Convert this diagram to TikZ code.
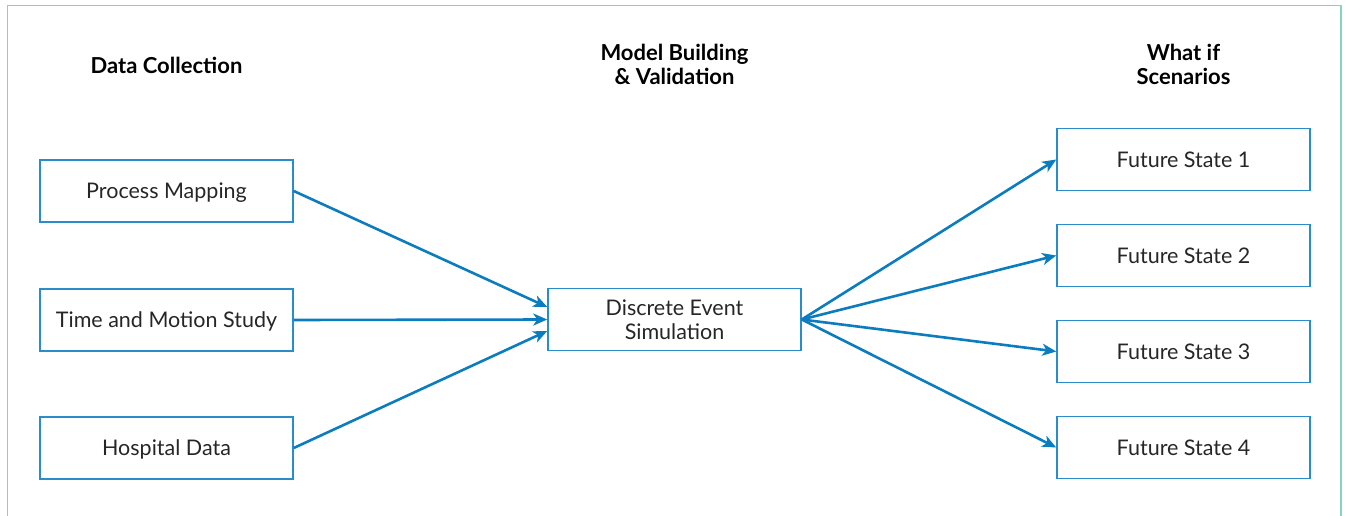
\documentclass[tikz,border=0pt]{standalone}
\usepackage{fontspec}
\setmainfont{Lato}
\usetikzlibrary{arrows.meta,calc}
\definecolor{framecol}{HTML}{86D3BE}
\definecolor{boxcol}{HTML}{2A8CC8}
\definecolor{arrowcol}{HTML}{0B7DBF}
\definecolor{txtcol}{HTML}{262626}
\begin{document}
\begin{tikzpicture}[x=1pt,y=-1pt,
  stagebox/.style={draw=boxcol,line width=1.5pt,minimum width=253pt,minimum height=62pt,
    inner sep=0pt,align=center,text=txtcol,font=\fontsize{21.5}{24}\selectfont,
    text height=15.4pt,text depth=0pt},
  twoline/.style={text height=39.4pt,text depth=0pt},
  heading/.style={align=center,text=black,font=\fontsize{22}{24}\selectfont\bfseries},
  flow/.style={draw=arrowcol,line width=2.6pt,-{Stealth[length=14pt,width=12pt,inset=4pt]}}]
  \useasboundingbox (0,0) rectangle (1346,516);
  % open frame around the diagram
  \draw[framecol,line width=1.5pt] (7.5,516) -- (7.5,5.5) -- (1341,5.5) -- (1341,516);

  % stage headings
  \node[heading] (h1) at (166.5,65) {Data Collection};
  \node[heading] (h2) at (674.5,64) {Model Building\\\& Validation};
  \node[heading] (h3) at (1183.5,64) {What if\\Scenarios};

  % input boxes
  \node[stagebox] (pm) at (166.5,191) {Process Mapping};
  \node[stagebox] (tm) at (166.5,320) {Time and Motion Study};
  \node[stagebox] (hd) at (166.5,448) {Hospital Data};

  % simulation model
  \node[stagebox,twoline] (des) at (674.5,319.5) {Discrete Event\\Simulation};

  % scenarios
  \node[stagebox] (fs1) at (1183.5,159.5) {Future State 1};
  \node[stagebox] (fs2) at (1183.5,255.5) {Future State 2};
  \node[stagebox] (fs3) at (1183.5,351.5) {Future State 3};
  \node[stagebox] (fs4) at (1183.5,447.5) {Future State 4};

  % inputs into the model
  \draw[flow] (pm.east) -- ($(des.west)+(0,-12.5)$);
  \draw[flow] (tm.east) -- (des.west);
  \draw[flow] (hd.east) -- ($(des.west)+(0,11.5)$);

  % model out to scenarios
  \draw[flow] (des.east) -- (fs1.west);
  \draw[flow] (des.east) -- (fs2.west);
  \draw[flow] (des.east) -- (fs3.west);
  \draw[flow] (des.east) -- (fs4.west);
\end{tikzpicture}
\end{document}
